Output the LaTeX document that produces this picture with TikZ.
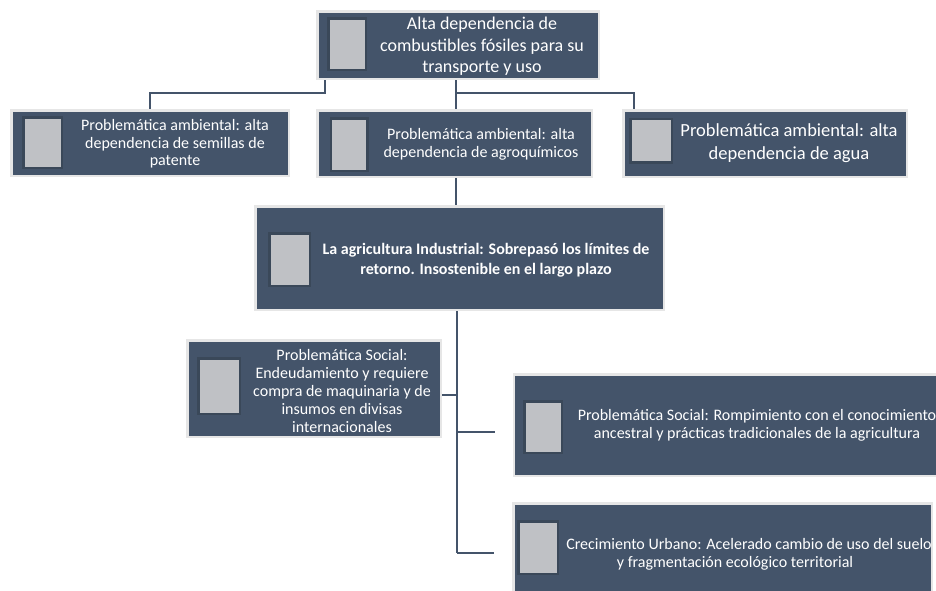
\documentclass[tikz,border=0pt]{standalone}
\usepackage{fontspec}
\setmainfont{Carlito}
\definecolor{boxc}{HTML}{44546A}
\definecolor{bordc}{HTML}{E6E6E6}
\definecolor{iconc}{HTML}{BFC1C5}
\definecolor{icond}{HTML}{3A4859}
\begin{document}
\begin{tikzpicture}[x=1pt,y=-1pt,
  box/.style={fill=boxc, draw=bordc, line width=2.5pt, inner sep=0pt},
  icon/.style={fill=iconc, draw=icond, line width=2.5pt, inner sep=0pt},
  txt/.style={text=white, align=center, inner sep=0pt},
  conn/.style={draw=boxc, line width=2.6pt}]
\useasboundingbox (0,0) rectangle (936,590);
\clip (0,0) rectangle (936,590);
% boxes
\node[box, minimum width=281.5pt, minimum height=67.5pt] (top) at (458,45) {};
\node[box, minimum width=277.5pt, minimum height=65.5pt] (b1) at (150,143) {};
\node[box, minimum width=274.5pt, minimum height=66.5pt] (b2) at (454.5,143.5) {};
\node[box, minimum width=283.5pt, minimum height=66.5pt] (b3) at (765,143.5) {};
\node[box, minimum width=408.5pt, minimum height=103.5pt] (mid) at (459.5,258) {};
\node[box, minimum width=253.5pt, minimum height=96.5pt] (left) at (314,388.5) {};
\node[box, minimum width=433pt, minimum height=101.5pt] (r1) at (730.5,425) {};
\node[box, minimum width=418.5pt, minimum height=97.5pt] (r2) at (722.5,552) {};
% icons
\node[icon, minimum width=37.5pt, minimum height=51.5pt] (itop) at (347,44) {};
\node[icon, minimum width=38.5pt, minimum height=50.5pt] (ib1) at (42.5,142.5) {};
\node[icon, minimum width=36.5pt, minimum height=52.5pt] (ib2) at (349,144.5) {};
\node[icon, minimum width=41.5pt, minimum height=43.5pt] (ib3) at (651,140.5) {};
\node[icon, minimum width=40.5pt, minimum height=52.5pt] (imid) at (289.5,259.5) {};
\node[icon, minimum width=41.5pt, minimum height=55.5pt] (ileft) at (219,386) {};
\node[icon, minimum width=37.5pt, minimum height=51.5pt] (ir1) at (543,427) {};
\node[icon, minimum width=39.5pt, minimum height=52.5pt] (ir2) at (538,547.5) {};
% texts
\node[txt, font=\fontsize{18}{21.5}\selectfont] (ttop) at (482,46.5)
  {Alta dependencia de\\combustibles fósiles para su\\transporte y uso};
\node[txt, font=\fontsize{16}{17.5}\selectfont] (tb1) at (175,144)
  {Problemática ambiental: alta\\dependencia de semillas de\\patente};
\node[txt, font=\fontsize{16}{18}\selectfont] (tb2) at (481,144)
  {Problemática ambiental: alta\\dependencia de agroquímicos};
\node[txt, font=\fontsize{18.5}{23}\selectfont] (tb3) at (789,143)
  {Problemática ambiental: alta\\dependencia de agua};
\node[txt, font=\fontsize{16}{20}\selectfont\bfseries] (tmid) at (486,260)
  {La agricultura Industrial: Sobrepasó los límites de\\retorno. Insostenible en el largo plazo};
\node[txt, font=\fontsize{16}{18}\selectfont] (tleft) at (342,391)
  {Problemática Social:\\Endeudamiento y requiere\\compra de maquinaria y de\\insumos en divisas\\internacionales};
\node[txt, font=\fontsize{16}{18}\selectfont] (tr1) at (757,425)
  {Problemática Social: Rompimiento con el conocimiento\\ancestral y prácticas tradicionales de la agricultura};
\node[txt, font=\fontsize{16}{18}\selectfont] (tr2) at (749,554)
  {Crecimiento Urbano: Acelerado cambio de uso del suelo\\y fragmentación ecológico territorial\hspace*{28pt}};
% connectors
\coordinate (j1) at (325,93);
\coordinate (j2) at (456,93);
\coordinate (j3) at (634,93);
\coordinate (jt) at (457,553);
\coordinate (jl) at (457,395);
\coordinate (e1) at (495,432);
\coordinate (e2) at (494,553);
\draw[conn] (top.south -| j1) -- (j1) -| (b1.north);
\draw[conn] (top.south -| j2) -- (b2.north -| j2);
\draw[conn] (j2) -- (j3) -- (b3.north -| j3);
\draw[conn] (b2.south -| j2) -- (mid.north -| j2);
\draw[conn] (mid.south -| jt) -- (jt);
\draw[conn] (left.east |- jl) -- (jl);
\draw[conn] (e1 -| jt) -- (e1);
\draw[conn] (jt) -- (e2);
\end{tikzpicture}
\end{document}
